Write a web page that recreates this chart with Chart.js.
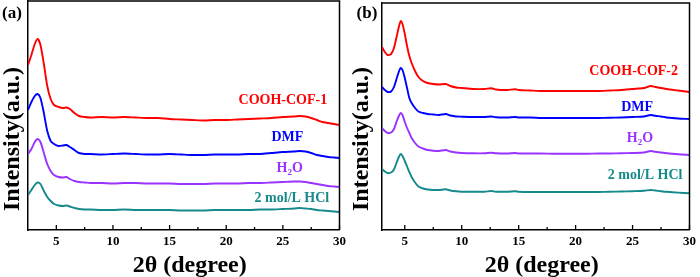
<!DOCTYPE html>
<html>
<head>
<meta charset="utf-8">
<script src="https://cdn.jsdelivr.net/npm/chart.js@4.4.1/dist/chart.umd.min.js"></script>
<style>
  html, body { margin: 0; padding: 0; background: #fff; }
  #wrap { position: relative; width: 700px; height: 277px; }
  .panel { position: absolute; top: 0; width: 350px; height: 277px; }
</style>
</head>
<body>
<div id="wrap">
  <div class="panel" style="left:0"><canvas id="chartA" width="350" height="277"></canvas></div>
  <div class="panel" style="left:350px"><canvas id="chartB" width="350" height="277"></canvas></div>
</div>
<script>
// ---- data ----
const xTicks = [5, 10, 15, 20, 25, 30];
const xTitle = '2θ (degree)';
const yTitle = 'Intensity(a.u.)';
const seriesNames = ['COOH-COF', 'DMF', 'H_2O', '2 mol/L HCl'];

// panel (a)
const thetaA = [2.5, 2.8, 3.1, 3.35, 3.6, 3.9, 4.2, 4.5, 4.8, 5.2, 5.6, 5.9, 6.2, 6.6, 7.0, 7.5, 8, 9, 10, 11, 12, 13, 14, 15, 16, 17, 18, 19, 20, 21, 22, 23, 24, 25, 26, 26.5, 27, 27.5, 28, 28.5, 29, 29.5, 30];
const cof1 = [165, 175, 186, 191, 185, 166, 144, 131, 125, 123, 122, 122.5, 121, 117, 114, 113, 112.5, 113, 112.5, 113, 112.5, 112, 112, 111, 110.5, 110, 109.5, 110, 110, 110.5, 111, 111.5, 112, 113, 113.5, 114, 113.5, 112, 110, 108, 107, 106, 105];
const dmfA = [120, 128, 134, 136, 132, 117, 99, 89, 86, 84, 84.5, 85, 83, 80, 77, 76, 76, 75.5, 76, 76.5, 76, 75.5, 75.5, 76, 75.5, 75, 75, 75.5, 75.5, 75.5, 76, 76, 77, 78, 78.5, 79, 78.5, 77, 75, 74, 73, 72.5, 72];
const waterA = [76, 81, 88, 91, 88, 77, 66, 59, 55, 53, 52.5, 53, 51, 49, 48, 47.5, 47, 47, 46.5, 47, 47, 46.5, 46.5, 46.5, 46, 46, 46, 46.5, 46.5, 46.5, 47, 47, 47.5, 48, 48.5, 48.5, 48, 47, 46, 45, 44, 43.5, 43];
const hclA = [35, 40, 45, 47.5, 46, 39, 33, 29, 26, 24.5, 24, 24.5, 23.5, 22, 21, 20.5, 20.5, 20, 20, 20.5, 20, 20, 20, 20, 19.5, 19.5, 19.5, 20, 20, 20, 20, 20.5, 20.5, 21, 21.5, 22, 21.5, 21, 20, 19.5, 19, 18.5, 18];

// panel (b)
const thetaB = [3.0, 3.25, 3.5, 3.8, 4.05, 4.3, 4.5, 4.65, 4.8, 5.0, 5.2, 5.4, 5.6, 5.9, 6.2, 6.6, 7.0, 7.5, 8.0, 8.6, 9.0, 9.5, 10, 11, 12, 12.6, 13, 14, 14.7, 15, 16, 17, 18, 19, 20, 21, 22, 23, 24, 25, 26, 26.6, 27, 27.5, 28, 29, 30];
const cof2 = [183, 178, 175, 176, 182, 194, 204, 209, 206, 196, 184, 174, 167, 159, 153, 149, 147, 146, 145.5, 146, 144, 142.5, 142, 141, 141, 141.7, 140.5, 140, 140.7, 140, 139.5, 139, 139, 139, 139, 139, 139, 139.5, 140, 141, 142, 144, 143, 142, 141, 139.5, 138];
const dmfB = [143, 140, 138, 138.5, 143, 152, 159, 162, 160, 152, 142, 132, 127, 122, 118.5, 117, 116, 115.5, 115, 116, 114.5, 113.5, 113.3, 113, 113, 113.5, 112.7, 112.5, 113, 112.5, 112.5, 112, 112, 112, 112, 112, 112, 112.2, 112.5, 113, 113.5, 115, 114.2, 113.5, 112.5, 111.5, 111];
const waterB = [102, 99, 97, 97.5, 101, 109, 114.5, 117, 115, 108, 102, 97, 92, 87, 83.5, 81.5, 80, 79.3, 79, 80, 78.5, 77.5, 77, 76.7, 76.7, 77.2, 76.7, 76.5, 77, 76.5, 76.5, 76.5, 76.3, 76.3, 76.3, 76.3, 76.5, 76.5, 76.7, 77, 77.5, 79, 78.2, 77.5, 76.7, 75.7, 75];
const hclB = [61, 58.5, 57, 57.5, 60.5, 68, 73.5, 76, 74, 69, 63.5, 58, 53, 47.5, 43.5, 41.5, 40.5, 40, 40, 40.7, 39.5, 38.7, 38.3, 38.3, 38.3, 39, 38.3, 38.3, 38.8, 38.3, 38, 38, 38, 38, 38, 38, 38, 38.2, 38.5, 38.8, 39.2, 40, 39.5, 38.8, 38.2, 37.4, 36.7];

// ---- styling ----
const SERIF = '"Liberation Serif", "Times New Roman", serif';
const colors = ['#ff0000', '#0000ff', '#9933ff', '#16898a'];

// draws "H_2O" style text with a subscript, centred on cx
function drawRich(ctx, text, cx, cy, size) {
  const parts = [];
  for (let i = 0; i < text.length; i++) {
    if (text[i] === '_' && i + 1 < text.length) { parts.push({ t: text[i + 1], sub: true }); i++; }
    else parts.push({ t: text[i], sub: false });
  }
  const fontOf = p => `bold ${p.sub ? Math.round(size * 0.65) : size}px ${SERIF}`;
  let total = 0;
  parts.forEach(p => { ctx.font = fontOf(p); p.w = ctx.measureText(p.t).width; total += p.w; });
  let xx = cx - total / 2;
  ctx.textAlign = 'left';
  parts.forEach(p => {
    ctx.font = fontOf(p);
    ctx.fillText(p.t, xx, cy + (p.sub ? size * 0.3 : 0));
    xx += p.w;
  });
}

const framePlugin = {
  id: 'frame',
  afterDraw(chart) {
    const { ctx, chartArea: a, scales: { x } } = chart;
    ctx.save();
    ctx.strokeStyle = '#000';
    ctx.lineWidth = 1.5;
    ctx.beginPath();
    ctx.moveTo(a.left, a.top);
    ctx.lineTo(a.right, a.top);
    ctx.lineTo(a.right, a.bottom);
    ctx.stroke();
    // inward tick marks on the bottom axis
    const minor = xTicks.slice(1).map((v, i) => (v + xTicks[i]) / 2);
    ctx.lineWidth = 1.3;
    ctx.beginPath();
    xTicks.forEach(v => {
      const px = x.getPixelForValue(v);
      ctx.moveTo(px, a.bottom); ctx.lineTo(px, a.bottom - 5);
    });
    minor.forEach(v => {
      const px = x.getPixelForValue(v);
      ctx.moveTo(px, a.bottom); ctx.lineTo(px, a.bottom - 3);
    });
    ctx.stroke();
    ctx.restore();
  }
};

const textPlugin = {
  id: 'texts',
  afterDraw(chart, args, o) {
    const { ctx, chartArea: a, scales: { x, y } } = chart;
    ctx.save();
    ctx.textBaseline = 'middle';
    ctx.textAlign = 'center';
    ctx.fillStyle = '#000';
    ctx.font = `bold 17px ${SERIF}`;
    ctx.fillText(o.letter, o.letterX, 14);
    ctx.font = `bold 24px ${SERIF}`;
    ctx.fillText(xTitle, (a.left + a.right) / 2 + o.titleShift, 266);
    ctx.save();
    ctx.translate(o.yTitleX, 139);
    ctx.rotate(-Math.PI / 2);
    ctx.font = `bold 24px ${SERIF}`;
    ctx.fillText(yTitle, 0, 0);
    ctx.restore();
    o.labels.forEach((l, i) => {
      ctx.fillStyle = colors[i];
      drawRich(ctx, l.text, x.getPixelForValue(l.x), y.getPixelForValue(l.y), 14);
    });
    ctx.restore();
  }
};

function makePanel(id, theta, series, xmin, ymax, box, textOpts) {
  return new Chart(document.getElementById(id), {
    type: 'line',
    data: {
      datasets: series.map((s, i) => ({
        data: theta.map((t, k) => ({ x: t, y: s[k] })),
        borderColor: colors[i],
        borderWidth: 1.9,
        pointRadius: 0,
        tension: 0.25,
        fill: false
      }))
    },
    options: {
      responsive: false,
      animation: false,
      devicePixelRatio: 1,
      layout: { padding: { top: box.top, right: box.right, left: 0, bottom: 0 } },
      plugins: { legend: { display: false }, tooltip: { enabled: false }, texts: textOpts },
      scales: {
        x: {
          type: 'linear',
          min: xmin,
          max: 30,
          afterBuildTicks: s => { s.ticks = xTicks.map(v => ({ value: v })); },
          afterFit: s => { s.height = 47; },
          ticks: { color: '#000', padding: 4, maxRotation: 0, autoSkip: false, font: { family: SERIF, weight: 'bold', size: 13 } },
          grid: { display: false, drawTicks: false },
          border: { color: '#000', width: 1.5 }
        },
        y: {
          min: 0,
          max: ymax,
          afterFit: s => { s.width = box.left; },
          ticks: { display: false },
          grid: { display: false, drawTicks: false },
          border: { color: '#000', width: 1.5 }
        }
      }
    },
    plugins: [framePlugin, textPlugin]
  });
}

makePanel('chartA', thetaA, [cof1, dmfA, waterA, hclA], 2.5, 229,
  { left: 28, right: 10, top: 1 },
  {
    letter: '(a)', letterX: 12, yTitleX: 13, titleShift: 6,
    labels: [
      { text: seriesNames[0] + '-1', x: 25.0, y: 130 },
      { text: seriesNames[1], x: 25.4, y: 93 },
      { text: seriesNames[2], x: 25.6, y: 62 },
      { text: seriesNames[3], x: 25.8, y: 32 }
    ]
  });

makePanel('chartB', thetaB, [cof2, dmfB, waterB, hclB], 3, 227,
  { left: 32, right: 7, top: 3 },
  {
    letter: '(b)', letterX: 17, yTitleX: 12, titleShift: 6,
    labels: [
      { text: seriesNames[0] + '-2', x: 25.1, y: 159 },
      { text: seriesNames[1], x: 25.4, y: 123 },
      { text: seriesNames[2], x: 25.65, y: 92 },
      { text: seriesNames[3], x: 26.1, y: 55 }
    ]
  });
</script>
</body>
</html>
